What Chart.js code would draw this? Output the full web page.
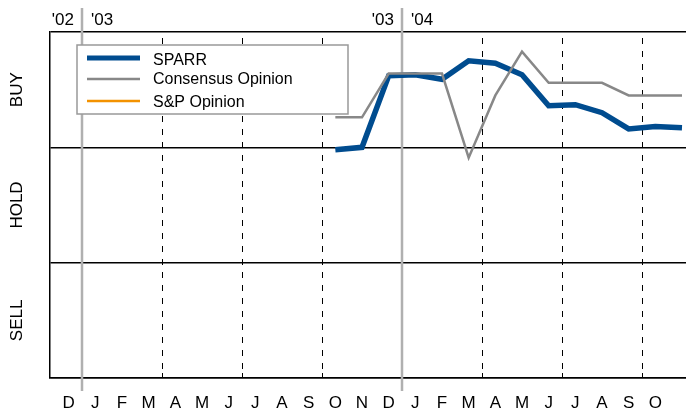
<!DOCTYPE html>
<html>
<head>
<meta charset="utf-8">
<script src="https://cdn.jsdelivr.net/npm/chart.js@4"></script>
<style>
  html, body { margin: 0; padding: 0; background: #fff; }
  #wrap { width: 686px; height: 412px; position: relative; }
</style>
</head>
<body>
<div id="wrap"><canvas id="g_avis"></canvas></div>
<script>
// mois : 0 = janvier 2003
const monthLabels = ['D', 'J', 'F', 'M', 'A', 'M', 'J', 'J', 'A', 'S', 'O', 'N', 'D',
    'J', 'F', 'M', 'A', 'M', 'J', 'J', 'A', 'S', 'O'];
const firstMonth = -1;
const yearMarks = [0, 12];            // debut 2003 et 2004
const yearLabels = [["'02", "'03"], ["'03", "'04"]];
const quarterMarks = [3, 6, 9, 15, 18, 21];
const ratingLabels = ['SELL', 'HOLD', 'BUY'];

// oct 2003 -> nov 2004 (valeur placee au milieu du mois)
const dataMonths = [9, 10, 11, 12, 13, 14, 15, 16, 17, 18, 19, 20, 21, 22];
const sparr = [1.98, 2.00, 2.62, 2.63, 2.59, 2.75, 2.73, 2.63, 2.36, 2.37, 2.30, 2.16, 2.18, 2.17];
const consensus = [2.26, 2.26, 2.64, 2.64, 2.64, 1.91, 2.45, 2.83, 2.56, 2.56, 2.56, 2.45, 2.45, 2.45];
const spOpinion = [];

function toPoints(values) {
    let pts = [];
    for (let i = 0; i < values.length; i++) {
        pts.push({ x: dataMonths[i] + 0.5, y: values[i] });
    }
    return pts;
}

const FONT = '"Liberation Sans", Arial, sans-serif';

// lignes des annees, trimestres et textes autour du graphique
const decorPlugin = {
    id: 'decor',
    beforeDatasetsDraw(chart) {
        const ctx = chart.ctx;
        const a = chart.chartArea;
        const xs = chart.scales.x;
        ctx.save();
        // trimestres en pointille
        ctx.strokeStyle = '#000';
        ctx.lineWidth = 1;
        quarterMarks.forEach(m => {
            const x = Math.round(xs.getPixelForValue(m)) + 0.5;
            ctx.setLineDash([6, 7]);
            ctx.beginPath();
            ctx.moveTo(x, a.top + 6);
            ctx.lineTo(x, a.bottom);
            ctx.stroke();
            ctx.setLineDash([]);
            ctx.beginPath();
            ctx.moveTo(x, a.bottom - 5);
            ctx.lineTo(x, a.bottom);
            ctx.stroke();
        });
        // annees
        ctx.strokeStyle = '#b0b0b0';
        ctx.lineWidth = 2.5;
        ctx.font = '17px ' + FONT;
        ctx.fillStyle = '#000';
        ctx.textBaseline = 'middle';
        yearMarks.forEach((m, i) => {
            const x = Math.round(xs.getPixelForValue(m));
            ctx.beginPath();
            ctx.moveTo(x, 8);
            ctx.lineTo(x, a.bottom + 13);
            ctx.stroke();
            ctx.textAlign = 'right';
            ctx.fillText(yearLabels[i][0], x - 8, 20);
            ctx.textAlign = 'left';
            ctx.fillText(yearLabels[i][1], x + 9, 20);
        });
        // BUY / HOLD / SELL
        const ys = chart.scales.y;
        ratingLabels.forEach((lab, i) => {
            const y = ys.getPixelForValue(i + 0.5);
            ctx.save();
            ctx.translate(17, y);
            ctx.rotate(-Math.PI / 2);
            ctx.textAlign = 'center';
            ctx.fillText(lab, 0, 0);
            ctx.restore();
        });
        ctx.restore();
    },
    afterDatasetsDraw(chart) {
        // legende dans un cadre
        const ctx = chart.ctx;
        ctx.save();
        ctx.fillStyle = '#fff';
        ctx.fillRect(77, 45, 271, 69);
        ctx.strokeStyle = '#999';
        ctx.lineWidth = 1.5;
        ctx.strokeRect(77, 45, 271, 69);
        const lines = [58, 79, 101];
        const rows = [61, 80, 103];
        chart.data.datasets.forEach((ds, i) => {
            ctx.strokeStyle = ds.borderColor;
            ctx.lineWidth = i === 0 ? 5 : 2.5;
            ctx.beginPath();
            ctx.moveTo(87, lines[i]);
            ctx.lineTo(140, lines[i]);
            ctx.stroke();
            ctx.fillStyle = '#000';
            ctx.font = '16px ' + FONT;
            ctx.textAlign = 'left';
            ctx.textBaseline = 'middle';
            ctx.fillText(ds.label, 153, rows[i]);
        });
        ctx.restore();
    }
};

window.addEventListener('load', () => {
    const context = document.getElementById('g_avis').getContext('2d');
    let conData = {
        datasets: [{
            label: 'SPARR',
            data: toPoints(sparr),
            borderColor: '#004c8f',
            borderWidth: 5.5,
            pointRadius: 0,
            tension: 0,
            order: 3
        }, {
            label: 'Consensus Opinion',
            data: toPoints(consensus),
            borderColor: '#888888',
            borderWidth: 2.5,
            pointRadius: 0,
            tension: 0,
            order: 1
        }, {
            label: 'S&P Opinion',
            data: toPoints(spOpinion),
            borderColor: '#f39200',
            borderWidth: 2.5,
            pointRadius: 0,
            order: 2
        }]
    };
    let options = {
        responsive: true,
        maintainAspectRatio: false,
        animation: false,
        layout: { padding: { left: 50, top: 32, right: 0, bottom: 0 } },
        plugins: {
            legend: { display: false },
            tooltip: { enabled: false }
        },
        scales: {
            x: {
                type: 'linear',
                min: -1.2,
                max: 22.65,
                afterBuildTicks: (scale) => {
                    let t = [];
                    for (let i = 0; i < monthLabels.length; i++) {
                        t.push({ value: firstMonth + i + 0.5 });
                    }
                    scale.ticks = t;
                },
                afterFit: (scale) => { scale.height = 34; },
                grid: { display: false, drawTicks: false },
                border: { display: true, color: '#000', width: 1.5 },
                ticks: {
                    autoSkip: false,
                    maxRotation: 0,
                    padding: 15,
                    color: '#000',
                    font: { family: FONT, size: 17 },
                    callback: (v) => monthLabels[Math.round(v - 0.5) - firstMonth]
                }
            },
            y: {
                min: 0,
                max: 3,
                afterFit: (scale) => { scale.width = 0; },
                ticks: { display: false, stepSize: 1 },
                grid: { color: '#000', lineWidth: 1.5, drawTicks: false },
                border: { display: true, color: '#000', width: 1.5 }
            }
        }
    };
    new Chart(context, { type: 'line', data: conData, options: options, plugins: [decorPlugin] });
});
</script>
</body>
</html>
